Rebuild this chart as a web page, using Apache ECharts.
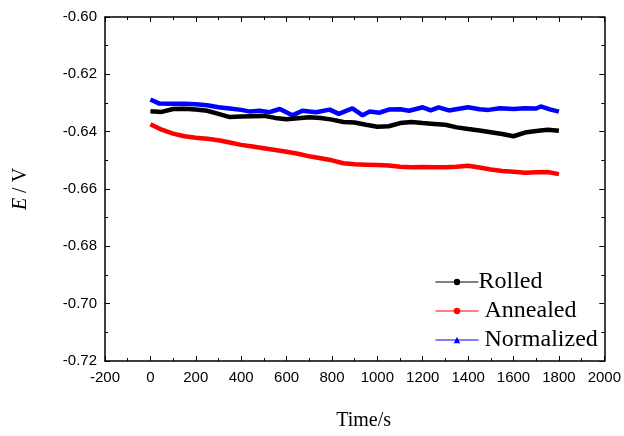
<!DOCTYPE html>
<html>
<head>
<meta charset="utf-8">
<script src="https://cdn.jsdelivr.net/npm/echarts@6/dist/echarts.min.js"></script>
<style>html,body{margin:0;padding:0;background:#fff;}#c{width:624px;height:436px;}</style>
</head>
<body>
<div id="c"></div>
<script>
// X ticks and y ticks
var xTicks = [-200, 0, 200, 400, 600, 800, 1000, 1200, 1400, 1600, 1800, 2000];
var yTicks = [-0.72, -0.70, -0.68, -0.66, -0.64, -0.62, -0.60];

// Rolled / Annealed share times
var timeA = [0,50,100,150,200,250,300,350,400,450,500,550,600,650,700,750,800,850,900,950,1000,1050,1100,1150,1200,1250,1300,1350,1400,1450,1500,1550,1600,1650,1700,1750,1800];
var rolled = [-0.6329,-0.6331,-0.6321,-0.6320,-0.6323,-0.6327,-0.6338,-0.6349,-0.6347,-0.6346,-0.6345,-0.6352,-0.6357,-0.6353,-0.6350,-0.6352,-0.6358,-0.6366,-0.6368,-0.6376,-0.6383,-0.6381,-0.6370,-0.6366,-0.6370,-0.6373,-0.6376,-0.6385,-0.6391,-0.6396,-0.6402,-0.6408,-0.6416,-0.6403,-0.6398,-0.6393,-0.6397];
var annealed = [-0.6374,-0.6393,-0.6407,-0.6416,-0.6421,-0.6425,-0.6430,-0.6438,-0.6446,-0.6452,-0.6458,-0.6464,-0.6470,-0.6477,-0.6486,-0.6493,-0.6500,-0.6510,-0.6514,-0.6515,-0.6516,-0.6518,-0.6522,-0.6524,-0.6523,-0.6524,-0.6524,-0.6522,-0.6519,-0.6525,-0.6532,-0.6537,-0.6540,-0.6543,-0.6542,-0.6541,-0.6548];

// Normalized
var timeN = [0,40,100,150,200,250,300,350,400,440,480,525,570,625,670,730,790,830,890,935,965,1010,1050,1100,1140,1200,1235,1270,1315,1360,1400,1450,1490,1540,1600,1650,1700,1720,1760,1800];
var normalized = [-0.6288,-0.6302,-0.6303,-0.6303,-0.6304,-0.6308,-0.6315,-0.6319,-0.6324,-0.6330,-0.6327,-0.6332,-0.6321,-0.6343,-0.6327,-0.6332,-0.6323,-0.6338,-0.6319,-0.6343,-0.6330,-0.6334,-0.6323,-0.6322,-0.6327,-0.6315,-0.6326,-0.6315,-0.6326,-0.6320,-0.6315,-0.6322,-0.6324,-0.6318,-0.6321,-0.6318,-0.6319,-0.6312,-0.6322,-0.6330];

var names = ['Rolled', ' Annealed', ' Normalized'];
var colors = ['#000000', '#ff0000', '#0000ff'];

function pairs(t, v) { return t.map(function (x, i) { return [x, v[i]]; }); }

var chart = echarts.init(document.getElementById('c'), null, { renderer: 'canvas' });
var axisText = { color: '#000', fontFamily: 'Liberation Sans, Arial', fontSize: 15 };
var tickCommon = { show: true, inside: true, length: 5, lineStyle: { color: '#000', width: 1 } };
var minorCommon = { show: true, splitNumber: 2, length: 3, lineStyle: { color: '#000', width: 1 } };

function mkLine(i, data, sym) {
  return {
    name: names[i], type: 'line', data: data,
    xAxisIndex: 0, yAxisIndex: 0,
    showSymbol: false, symbol: sym, symbolSize: 5,
    lineStyle: { color: colors[i], width: 4.5 },
    itemStyle: { color: colors[i] },
    animation: false, z: 3 - i + 2
  };
}

chart.setOption({
  animation: false,
  backgroundColor: '#fff',
  grid: { left: 105, right: 18, top: 17, bottom: 65, containLabel: false },
  legend: {
    orient: 'vertical', left: 430, top: 265, itemGap: 5,
    itemWidth: 43, itemHeight: 8,
    data: names,
    lineStyle: { width: 1 },
    textStyle: { fontFamily: 'Liberation Serif, Times New Roman', fontSize: 24, lineHeight: 24, color: '#000', padding: [0, 0, 0, -5] }
  },
  xAxis: [{
    type: 'value', min: -200, max: 2000, interval: 200,
    name: 'Time/s', nameLocation: 'middle', nameGap: 50,
    nameTextStyle: { fontFamily: 'Liberation Serif, Times New Roman', fontSize: 20, color: '#000', padding: [0, 0, 0, 18] },
    axisLine: { show: true, onZero: false, lineStyle: { color: '#000', width: 1.5 } },
    axisTick: tickCommon, minorTick: minorCommon,
    axisLabel: Object.assign({ margin: 9, formatter: function (v) { return String(v); } }, axisText),
    splitLine: { show: false }
  }, {
    type: 'value', min: -200, max: 2000, interval: 200, position: 'top',
    axisLine: { show: true, onZero: false, lineStyle: { color: '#000', width: 1.5 } },
    axisTick: tickCommon, minorTick: minorCommon,
    axisLabel: { show: false }, splitLine: { show: false }
  }],
  yAxis: [{
    type: 'value', min: -0.72, max: -0.60, interval: 0.02,
    name: '{i|E} / V', nameLocation: 'middle', nameGap: 74, nameRotate: 90,
    nameTextStyle: { fontFamily: 'Liberation Serif, Times New Roman', fontSize: 20, color: '#000',
      rich: { i: { fontFamily: 'Liberation Serif, Times New Roman', fontSize: 20, fontStyle: 'italic', color: '#000' } } },
    axisLine: { show: true, onZero: false, lineStyle: { color: '#000', width: 1.5 } },
    axisTick: tickCommon, minorTick: minorCommon,
    axisLabel: Object.assign({ margin: 8, formatter: function (v) { return v.toFixed(2); } }, axisText),
    splitLine: { show: false }
  }, {
    type: 'value', min: -0.72, max: -0.60, interval: 0.02, position: 'right',
    axisLine: { show: true, onZero: false, lineStyle: { color: '#000', width: 1.5 } },
    axisTick: tickCommon, minorTick: minorCommon,
    axisLabel: { show: false }, splitLine: { show: false }
  }],
  series: [
    mkLine(0, pairs(timeA, rolled), 'circle'),
    mkLine(1, pairs(timeA, annealed), 'circle'),
    mkLine(2, pairs(timeN, normalized), 'triangle')
  ]
});
</script>
</body>
</html>
